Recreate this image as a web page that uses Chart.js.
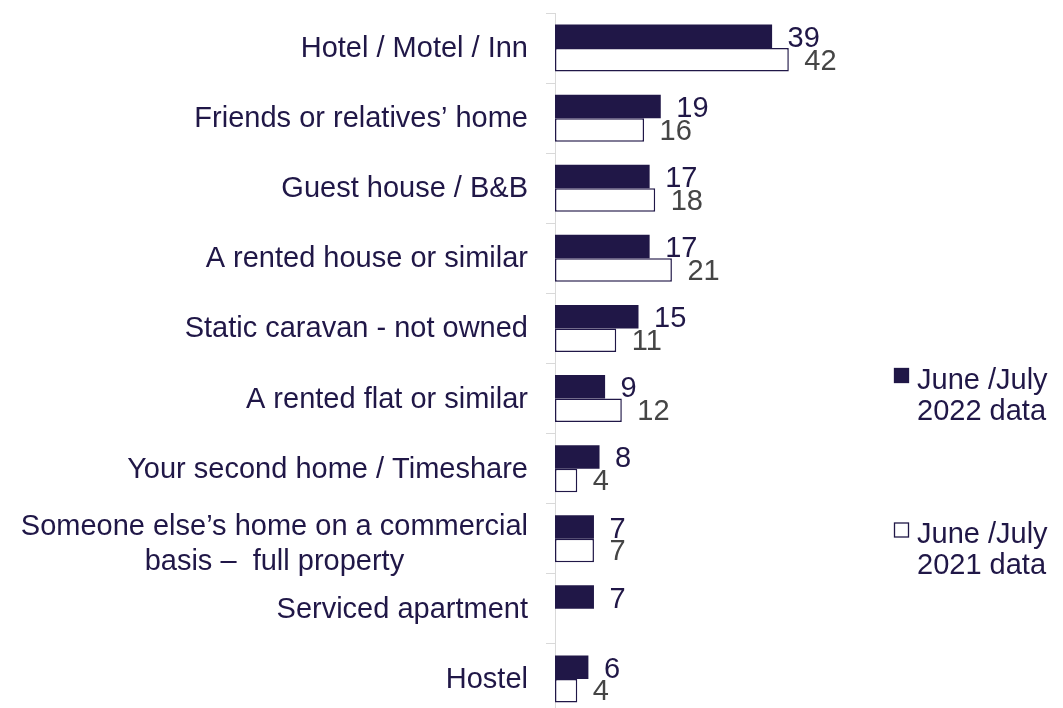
<!DOCTYPE html>
<html>
<head>
<meta charset="utf-8">
<script src="https://cdn.jsdelivr.net/npm/chart.js@4.4.1/dist/chart.umd.min.js"></script>
<style>
  html, body { margin: 0; padding: 0; overflow: hidden; background: #ffffff; }
  #wrap { position: relative; width: 1063px; height: 714px; }
</style>
</head>
<body>
<div id="wrap"><canvas id="c"></canvas></div>
<script>
const categories = [
  "Hotel / Motel / Inn",
  "Friends or relatives’ home",
  "Guest house / B&B",
  "A rented house or similar",
  "Static caravan - not owned",
  "A rented flat or similar",
  "Your second home / Timeshare",
  ["Someone else’s home on a commercial", "basis –  full property"],
  "Serviced apartment",
  "Hostel"
];
const data2022 = [39, 19, 17, 17, 15, 9, 8, 7, 7, 6];
const data2021 = [42, 16, 18, 21, 11, 12, 4, 7, null, 4];
const seriesNames = [["June /July", "2022 data"], ["June /July", "2021 data"]];

const NAVY = "#201747";
const GREY_TXT = "#454545";
const FONT = "29px 'Liberation Sans', Arial, sans-serif";

const labelPlugin = {
  id: "customText",
  afterDatasetsDraw(chart) {
    const ctx = chart.ctx;
    ctx.save();
    ctx.font = FONT;
    ctx.textAlign = "left";
    ctx.textBaseline = "alphabetic";
    [1, 0].forEach(di => {
      const meta = chart.getDatasetMeta(di);
      const ds = chart.data.datasets[di];
      ctx.fillStyle = di === 0 ? NAVY : GREY_TXT;
      meta.data.forEach((el, i) => {
        const v = ds.data[i];
        if (v === null || v === undefined) return;
        ctx.fillText(String(v), el.x + 15.5, el.y + (di === 0 ? 10.5 : 9.8));
      });
    });
    ctx.restore();
  },
  afterDraw(chart) {
    const ctx = chart.ctx;
    const y = chart.scales.y;
    ctx.save();
    ctx.font = FONT;
    ctx.fillStyle = NAVY;
    ctx.textBaseline = "alphabetic";
    const xEnd = 528;
    categories.forEach((lab, i) => {
      const cy = y.getPixelForValue(i);
      if (Array.isArray(lab)) {
        const w = Math.max(...lab.map(l => ctx.measureText(l).width));
        const cx = xEnd - w / 2;
        ctx.textAlign = "center";
        const lh = 34.5;
        const start = cy + 9 - lh * (lab.length - 1) / 2 + 4.5;
        lab.forEach((l, k) => ctx.fillText(l, cx, start + k * lh));
      } else {
        ctx.textAlign = "right";
        ctx.fillText(lab, xEnd, cy + 9);
      }
    });
    // legend
    const items = [
      { fill: NAVY, stroke: NAVY, sq: 368, base: 389 },
      { fill: "#ffffff", stroke: NAVY, sq: 522.5, base: 543 }
    ];
    ctx.textAlign = "left";
    items.forEach((it, k) => {
      ctx.fillStyle = it.fill;
      ctx.fillRect(894, it.sq, 15, 15);
      ctx.strokeStyle = it.stroke;
      ctx.lineWidth = 1.3;
      ctx.strokeRect(894.5, it.sq + 0.5, 14, 14);
      ctx.fillStyle = NAVY;
      seriesNames[k].forEach((t, j) => ctx.fillText(t, 917, it.base + j * 31));
    });
    ctx.restore();
  }
};

new Chart(document.getElementById("c"), {
  type: "bar",
  data: {
    labels: categories,
    datasets: [
      {
        label: seriesNames[0].join(" "),
        data: data2022,
        backgroundColor: NAVY,
        borderWidth: 0,
        categoryPercentage: 0.67,
        barPercentage: 1.0
      },
      {
        label: seriesNames[1].join(" "),
        data: data2021,
        backgroundColor: "#ffffff",
        borderColor: NAVY,
        borderWidth: 1.5,
        borderSkipped: false,
        categoryPercentage: 0.67,
        barPercentage: 1.0
      }
    ]
  },
  options: {
    indexAxis: "y",
    responsive: true,
    maintainAspectRatio: false,
    animation: false,
    layout: { padding: { top: 13, right: 174, bottom: 0, left: 0 } },
    plugins: { legend: { display: false }, tooltip: { enabled: false } },
    scales: {
      x: { display: false, min: 0, max: 60 },
      y: {
        grid: { display: true, drawOnChartArea: false, drawTicks: true, tickLength: 9, color: "#d9d9d9", offset: true },
        border: { display: true, color: "#d9d9d9", width: 1 },
        ticks: { display: false },
        afterFit(scale) { scale.width = 555; }
      }
    }
  },
  plugins: [labelPlugin]
});
</script>
</body>
</html>
